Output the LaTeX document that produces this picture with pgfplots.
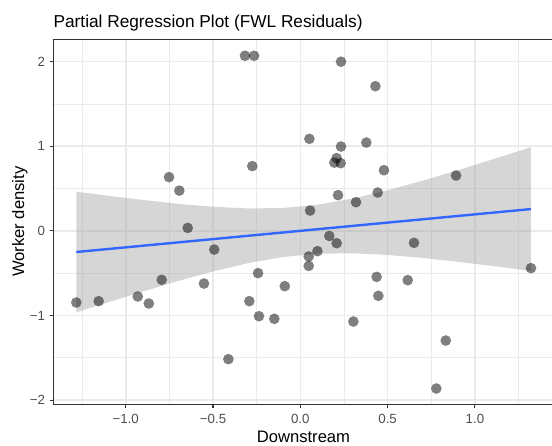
\documentclass[border=0pt]{standalone}
\usepackage{pgfplots}
\pgfplotsset{compat=1.18}
\usepackage{fontspec}
\setmainfont{Liberation Sans}
\definecolor{gridc}{HTML}{EBEBEB}
\definecolor{axc}{HTML}{333333}
\definecolor{tickc}{HTML}{4D4D4D}
\definecolor{smoothc}{HTML}{3366FF}
\definecolor{bandc}{HTML}{999999}
\begin{document}
\begin{tikzpicture}
\begin{axis}[
  at={(0,0)}, anchor=south west, scale only axis,
  width=375.2bp, height=273.75bp,
  xmin=-1.4147, xmax=1.4507, ymin=-2.050, ymax=2.265,
  xtick={-1,-0.5,0,0.5,1}, xticklabels={−1.0,−0.5,0.0,0.5,1.0},
  ytick={-2,-1,0,1,2}, yticklabels={−2,−1,0,1,2},
  minor xtick={-1.25,-0.75,-0.25,0.25,0.75,1.25},
  minor ytick={-1.5,-0.5,0.5,1.5},
  grid=both,
  major grid style={draw=gridc, line width=1.2bp},
  minor grid style={draw=gridc, line width=0.6bp},
  tick pos=left, tick align=outside,
  major tick length=2.75bp, minor tick length=0pt,
  tick style={draw=axc, line width=0.8bp},
  axis line style={draw=axc, line width=1bp},
  ticklabel style={font=\fontsize{10}{12}\selectfont, text=tickc, inner sep=0pt},
  xticklabel style={anchor=base, yshift=-11.5bp},
  yticklabel style={anchor=east, xshift=-3.2bp},
  xlabel={Downstream},
  label style={font=\fontsize{12.5}{14}\selectfont, inner sep=0pt},
  xlabel style={at={(axis description cs:0.5,0)}, anchor=base, yshift=-28.8bp},
]
\addplot[only marks, mark=*, mark size=4bp, mark options={draw opacity=0, fill=black, fill opacity=0.5}] table {
x y
-0.317 2.07
-0.265 2.07
-0.275 0.765
-0.752 0.635
-0.693 0.476
-0.645 0.035
0.233 2.0
0.43 1.71
0.052 1.088
0.233 0.997
0.378 1.044
0.208 0.86
0.195 0.807
0.231 0.80
0.479 0.717
0.892 0.654
0.216 0.422
0.319 0.339
0.443 0.453
0.056 0.24
0.166 -0.06
-1.283 -0.847
-1.155 -0.831
-0.931 -0.776
-0.868 -0.859
-0.794 -0.579
-0.552 -0.623
-0.493 -0.221
-0.242 -0.5
-0.292 -0.831
-0.237 -1.009
-0.149 -1.04
-0.412 -1.517
-0.089 -0.654
0.208 -0.146
0.098 -0.24
0.048 -0.303
0.048 -0.414
0.651 -0.142
1.321 -0.441
0.437 -0.544
0.615 -0.583
0.447 -0.768
0.304 -1.072
0.833 -1.297
0.779 -1.864
};
\addplot[draw=none, fill=bandc, fill opacity=0.4] table {
x y
-1.283 0.463
-1.1 0.415
-0.9 0.365
-0.7 0.320
-0.5 0.285
-0.3 0.265
-0.1 0.270
0.1 0.309
0.3 0.382
0.5 0.480
0.7 0.593
0.9 0.716
1.1 0.844
1.321 0.989
1.321 -0.474
1.1 -0.415
0.9 -0.365
0.7 -0.320
0.5 -0.285
0.3 -0.265
0.1 -0.270
-0.1 -0.309
-0.3 -0.382
-0.5 -0.480
-0.7 -0.593
-0.9 -0.716
-1.1 -0.844
-1.283 -0.963
} -- cycle;
\addplot[smoothc, line width=1.8bp] table {
x y
-1.283 -0.250
1.321 0.2576
};
\end{axis}
\node[anchor=base, rotate=90, inner sep=0pt, font=\fontsize{12.5}{14}\selectfont] at (-22bp,136.9bp) {Worker density};
\node[anchor=base west, inner sep=0pt, font=\fontsize{13}{15}\selectfont] at (0bp,282.75bp) {Partial Regression Plot (FWL Residuals)};
\pgfresetboundingbox
\useasboundingbox (-40bp,-31.3bp) rectangle (374bp,303.2bp);
\end{tikzpicture}
\end{document}
